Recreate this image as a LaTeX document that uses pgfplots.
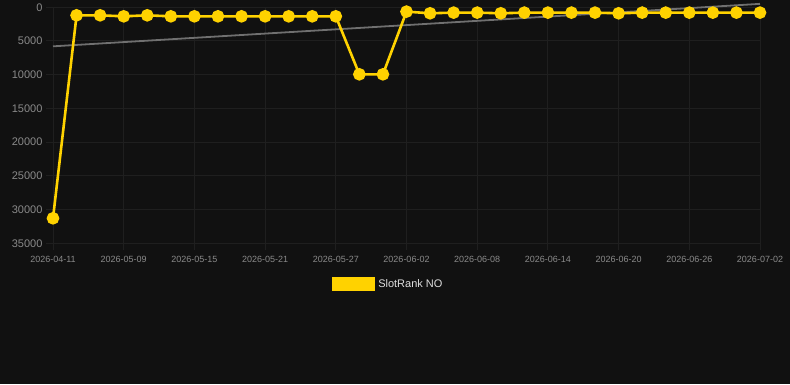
\documentclass[border=0pt]{standalone}
\usepackage{pgfplots}
\pgfplotsset{compat=1.18}
\usepackage{fontspec}
\setmainfont{Liberation Sans}
\definecolor{bg}{HTML}{111111}
\definecolor{gridc}{HTML}{1F1F1F}
\definecolor{gold}{HTML}{FFD200}
\definecolor{trend}{HTML}{707070}
\definecolor{ticktxt}{HTML}{8A8A8A}
\definecolor{legtxt}{HTML}{DDDDDD}
\begin{document}
\begin{tikzpicture}[x=1pt,y=1pt]
\fill[bg] (0,0) rectangle (790,384);
\begin{axis}[
  at={(53pt,141pt)}, anchor=south west,
  scale only axis, width=707pt, height=236pt,
  xmin=0, xmax=30, ymin=0, ymax=35000,
  y dir=reverse, clip=false,
  scaled y ticks=false,
  axis line style={draw=none},
  grid=major, grid style={gridc, line width=0.9pt},
  tick style={gridc, line width=0.9pt},
  major tick length=7pt, tick align=outside, tick pos=left,
  xtick={0,3,...,30},
  xticklabels={2026-04-11,2026-05-09,2026-05-15,2026-05-21,2026-05-27,2026-06-02,2026-06-08,2026-06-14,2026-06-20,2026-06-26,2026-07-02},
  ytick={0,5000,...,35000},
  /pgf/number format/.cd, 1000 sep={}, assume math mode=true,
  /pgfplots/.cd,
  yticklabel style={font=\fontsize{11}{13}\selectfont, text=ticktxt},
  xticklabel style={font=\fontsize{9}{11}\selectfont, text=ticktxt, yshift=-2.5pt},
  legend style={at={(axis description cs:0.3946,-0.1737)}, anchor=west, draw=none, fill=none, inner sep=0pt,
    font=\fontsize{11}{13}\selectfont, text=legtxt, nodes={inner xsep=3.5pt}},
  legend image code/.code={\fill[gold] (0pt,-5.5pt) rectangle (40pt,5.5pt);},
]
\addplot[trend, line width=1.8pt, forget plot] coordinates {(0,5800) (30,-500)};
\addplot[gold, line width=2.6pt, mark=*, mark size=5pt, mark options={fill=gold, draw=none}] coordinates {
(0,31300) (1,1200) (2,1200) (3,1350) (4,1200) (5,1350) (6,1350) (7,1350) (8,1350) (9,1350)
(10,1350) (11,1350) (12,1350) (13,9950) (14,9950) (15,650) (16,900) (17,800) (18,800) (19,900)
(20,800) (21,800) (22,800) (23,800) (24,900) (25,800) (26,800) (27,800) (28,800) (29,800) (30,800)};
\addlegendentry{SlotRank NO}
\end{axis}
\end{tikzpicture}
\end{document}
